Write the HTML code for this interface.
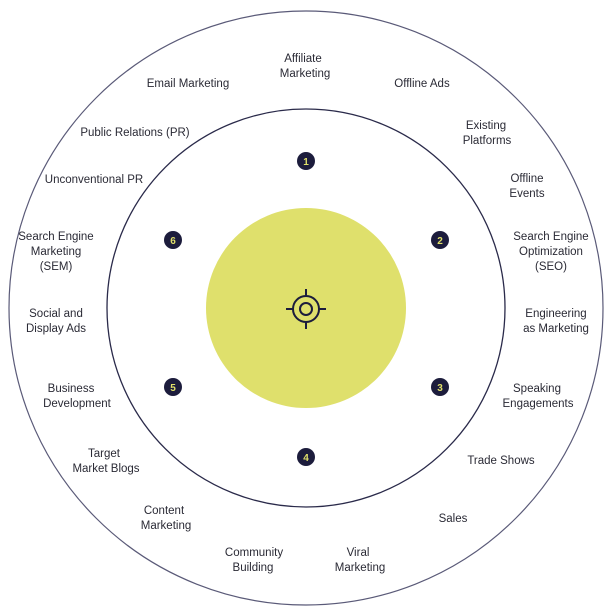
<!DOCTYPE html>
<html><head><meta charset="utf-8"><style>
html,body{margin:0;padding:0;background:#fff;}
svg{display:block;}
text{font-family:"Liberation Sans",sans-serif;font-size:11.5px;fill:#2a2a35;text-anchor:middle;}
.n{fill:#e0e06a;font-size:10px;font-weight:bold;}
</style></head><body>
<svg width="612" height="616" viewBox="0 0 612 616">
<circle cx="306" cy="308" r="297" fill="none" stroke="#5a5a78" stroke-width="1.2"/>
<circle cx="306" cy="308" r="199" fill="none" stroke="#2a2a4a" stroke-width="1.3"/>
<circle cx="306" cy="308" r="100" fill="#dfe06c"/>
<g stroke="#1c1c3c" stroke-width="2" fill="none">
<circle cx="306" cy="309" r="13"/>
<circle cx="306" cy="309" r="6"/>
<line x1="306" y1="289" x2="306" y2="296"/><line x1="306" y1="322" x2="306" y2="329"/>
<line x1="286" y1="309" x2="293" y2="309"/><line x1="319" y1="309" x2="326" y2="309"/>
</g>
<g fill="#1c1c3c">
<circle cx="306" cy="161" r="9"/><circle cx="440" cy="240" r="9"/><circle cx="440" cy="387" r="9"/>
<circle cx="306" cy="457" r="9"/><circle cx="173" cy="387" r="9"/><circle cx="173" cy="240" r="9"/>
</g>
<text class="n" x="306" y="165">1</text><text class="n" x="440" y="244">2</text><text class="n" x="440" y="391">3</text>
<text class="n" x="306" y="461">4</text><text class="n" x="173" y="391">5</text><text class="n" x="173" y="244">6</text>
<text x="303" y="62">Affiliate</text><text x="305" y="77">Marketing</text>
<text x="188" y="87">Email Marketing</text>
<text x="422" y="87">Offline Ads</text>
<text x="135" y="136">Public Relations (PR)</text>
<text x="486" y="129">Existing</text><text x="487" y="144">Platforms</text>
<text x="94" y="183">Unconventional PR</text>
<text x="527" y="182">Offline</text><text x="527" y="197">Events</text>
<text x="56" y="240">Search Engine</text><text x="56" y="255">Marketing</text><text x="56" y="270">(SEM)</text>
<text x="551" y="240">Search Engine</text><text x="551" y="255">Optimization</text><text x="551" y="270">(SEO)</text>
<text x="56" y="317">Social and</text><text x="56" y="332">Display Ads</text>
<text x="556" y="317">Engineering</text><text x="556" y="332">as Marketing</text>
<text x="71" y="392">Business</text><text x="77" y="407">Development</text>
<text x="537" y="392">Speaking</text><text x="538" y="407">Engagements</text>
<text x="104" y="457">Target</text><text x="106" y="472">Market Blogs</text>
<text x="501" y="464">Trade Shows</text>
<text x="164" y="514">Content</text><text x="166" y="529">Marketing</text>
<text x="453" y="522">Sales</text>
<text x="254" y="556">Community</text><text x="253" y="571">Building</text>
<text x="358" y="556">Viral</text><text x="360" y="571">Marketing</text>
</svg>
</body></html>
